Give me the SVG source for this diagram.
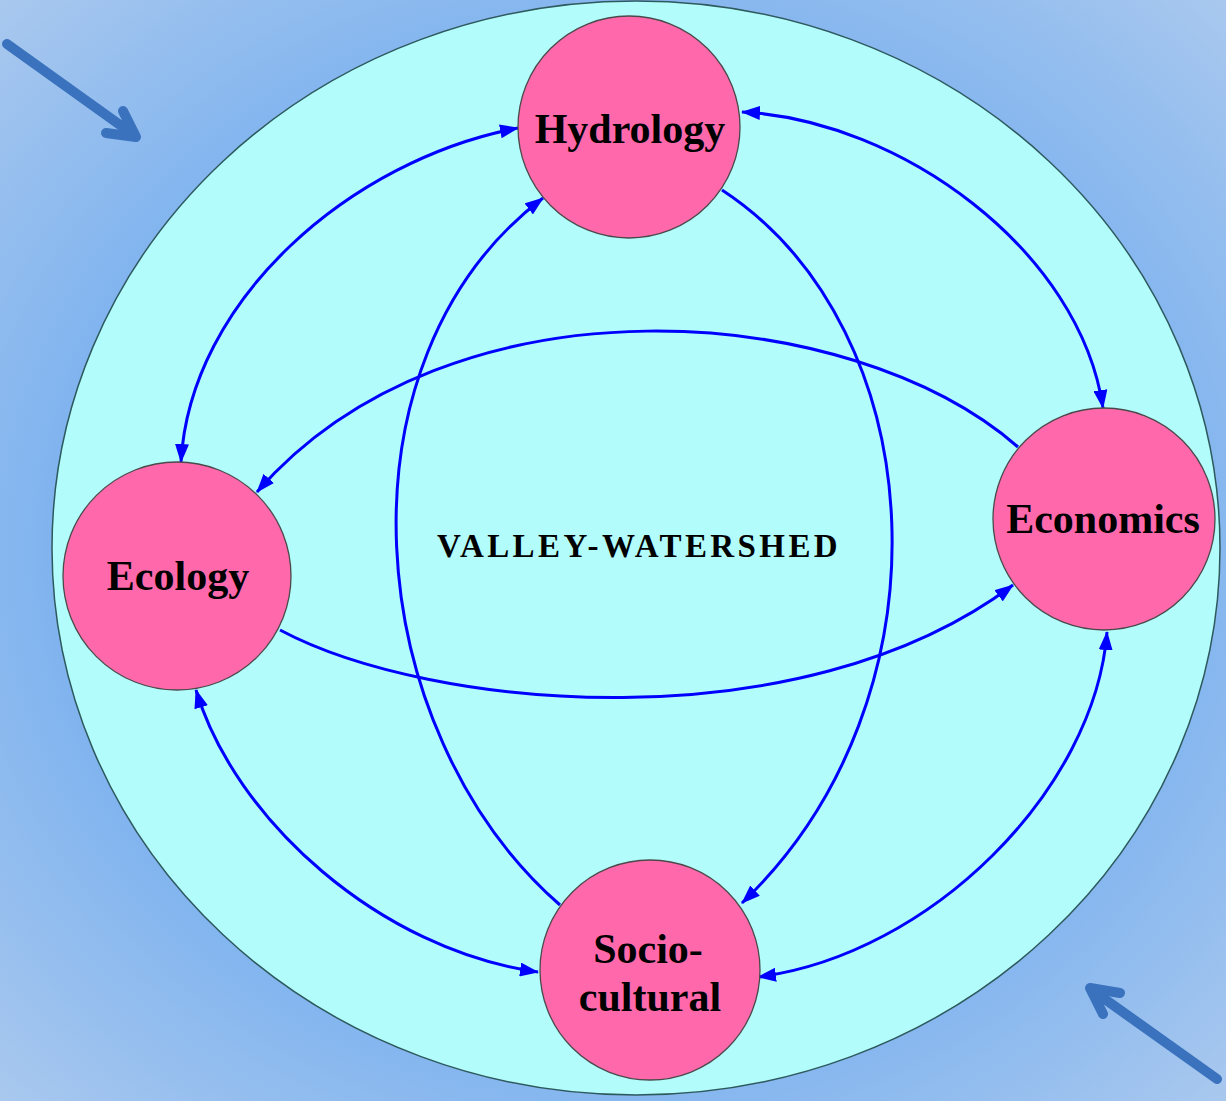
<svg xmlns="http://www.w3.org/2000/svg" width="1226" height="1101" viewBox="0 0 1226 1101">
<defs>
<radialGradient id="bg" cx="0.5" cy="0.5" r="0.75">
<stop offset="0" stop-color="#5f9ef0"/>
<stop offset="0.6" stop-color="#7fb3ef"/>
<stop offset="1" stop-color="#b0ccee"/>
</radialGradient>
<marker id="ah" markerUnits="userSpaceOnUse" markerWidth="20" markerHeight="14" refX="18" refY="7" orient="auto-start-reverse" viewBox="0 0 20 14">
<path d="M0,0 L19,7 L0,14 Z" fill="#0000ff"/>
</marker>
</defs>
<style>
.node{fill:#ff69ac;stroke:#4a4a4a;stroke-width:1.3}
.lbl{font-family:"Liberation Serif","Times New Roman",serif;font-weight:bold;font-size:42px;fill:#000;text-anchor:middle}
.con{fill:none;stroke:#0000ff;stroke-width:3}
.bga{fill:none;stroke:#3a72bd;stroke-width:10;stroke-linecap:round;stroke-linejoin:round}
</style>
<rect x="0" y="0" width="1226" height="1101" fill="url(#bg)"/>
<g id="bg-arrows">
<path class="bga" d="M7,44 L134,135"/>
<path class="bga" d="M123,111 L136,137 L106,133"/>
<path class="bga" d="M1217,1079 L1092,990"/>
<path class="bga" d="M1120,993 L1090,988 L1103,1014"/>
</g>
<g id="watershed">
<ellipse cx="636" cy="548" rx="584" ry="547" fill="#b2fcfb" stroke="#2e5a5e" stroke-width="1.5"/>
<text x="639" y="557" font-family="'Liberation Serif','Times New Roman',serif" font-weight="bold" font-size="33" letter-spacing="3.4" text-anchor="middle">VALLEY-WATERSHED</text>
</g>
<g id="connectors">
<path class="con" marker-start="url(#ah)" marker-end="url(#ah)" d="M518,128 C350,160 190,300 181,462"/>
<path class="con" marker-start="url(#ah)" marker-end="url(#ah)" d="M742,112 C900,120 1080,250 1103,408"/>
<path class="con" marker-end="url(#ah)" d="M722,190 C935,330 955,700 742,903"/>
<path class="con" marker-end="url(#ah)" d="M560,905 C360,730 330,360 543,198"/>
<path class="con" marker-end="url(#ah)" d="M1018,447 C850,300 450,270 257,492"/>
<path class="con" marker-end="url(#ah)" d="M280,630 C430,710 800,745 1013,585"/>
<path class="con" marker-start="url(#ah)" marker-end="url(#ah)" d="M196,690 C235,820 380,950 538,972"/>
<path class="con" marker-start="url(#ah)" marker-end="url(#ah)" d="M1107,632 C1095,790 930,955 758,977"/>
</g>
<g id="hydrology">
<circle class="node" cx="629" cy="127" r="111"/>
<text class="lbl" x="630" y="143">Hydrology</text>
</g>
<g id="ecology">
<circle class="node" cx="177" cy="576" r="114"/>
<text class="lbl" x="178" y="590">Ecology</text>
</g>
<g id="economics">
<circle class="node" cx="1104" cy="519" r="111"/>
<text class="lbl" x="1103" y="533">Economics</text>
</g>
<g id="sociocultural">
<circle class="node" cx="650" cy="970" r="110"/>
<text class="lbl" x="648" y="963">Socio-</text>
<text class="lbl" x="650" y="1011">cultural</text>
</g>
</svg>
